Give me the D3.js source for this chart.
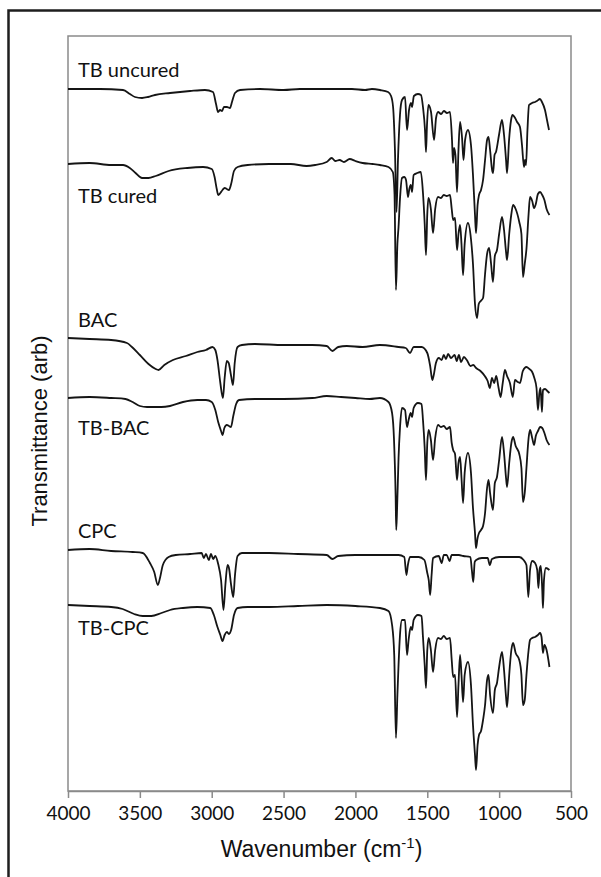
<!DOCTYPE html>
<html>
<head>
<meta charset="utf-8">
<script src="https://cdn.jsdelivr.net/npm/d3@7"></script>
<style>
  html, body { margin: 0; padding: 0; background: #fff; }
  svg { display: block; }
</style>
</head>
<body>
<div id="chart"></div>
<script>
// wavenumber (cm-1) ticks
var xTicks = [4000, 3500, 3000, 2500, 2000, 1500, 1000, 500];

var seriesNames = ['TB uncured', 'TB cured', 'BAC', 'TB-BAC', 'CPC', 'TB-CPC'];

// vertical stacking offset of each spectrum (arb)
var offsets = [702, 627, 453, 393, 241, 186];

// [wavenumber, transmittance relative to own baseline (arb)]
var tbUncured = [[4000,0],[3777,0],[3617,-1],[3569,-5],[3534,-8],[3485,-9],[3443,-8],[3395,-6],[3290,-4],[3151,-2],[3047,-1],[2991,-3],[2970,-15],[2956,-23],[2942,-21],[2928,-22],[2915,-18],[2894,-18],[2873,-19],[2859,-13],[2838,-4],[2803,-1],[2664,0],[2500,-1],[2386,0],[2200,0],[2024,0],[1933,-1],[1885,0],[1829,-1],[1773,-3],[1752,-7],[1738,-18],[1725,-61],[1714,-123],[1704,-71],[1690,-26],[1676,-11],[1655,-8],[1641,-41],[1627,-21],[1613,-14],[1606,-18],[1593,-7],[1565,-5],[1544,-6],[1530,-18],[1516,-41],[1509,-63],[1502,-36],[1492,-16],[1474,-23],[1453,-51],[1439,-29],[1425,-23],[1404,-25],[1384,-22],[1363,-24],[1342,-23],[1328,-51],[1321,-74],[1314,-59],[1304,-66],[1293,-103],[1283,-61],[1272,-33],[1258,-49],[1248,-71],[1237,-51],[1217,-41],[1196,-56],[1182,-86],[1168,-126],[1161,-144],[1150,-116],[1140,-106],[1126,-101],[1112,-91],[1098,-71],[1084,-51],[1074,-48],[1063,-61],[1049,-81],[1042,-84],[1032,-66],[1022,-63],[1001,-46],[980,-31],[966,-46],[952,-71],[945,-84],[931,-51],[917,-31],[907,-26],[889,-29],[875,-33],[855,-38],[841,-56],[827,-78],[820,-71],[813,-76],[803,-41],[792,-16],[771,-14],[750,-13],[737,-12],[716,-10],[702,-13],[681,-21],[667,-31],[653,-41]];

var tbCured = [[4000,0],[3850,1],[3700,-1],[3617,-1],[3570,-4],[3530,-9],[3485,-14],[3440,-14],[3390,-12],[3300,-7],[3170,-4],[3060,-3],[3000,-5],[2980,-13],[2965,-25],[2955,-31],[2940,-29],[2925,-26],[2910,-24],[2895,-25],[2880,-26],[2865,-20],[2845,-7],[2820,-3],[2750,-1],[2600,0],[2450,0],[2340,-2],[2280,-1],[2200,2],[2165,6],[2140,3],[2110,4],[2080,2],[2040,5],[2000,3],[1950,1],[1880,0],[1829,-1],[1770,-3],[1740,-8],[1728,-30],[1718,-126],[1708,-80],[1700,-63],[1690,-35],[1676,-14],[1660,-13],[1648,-16],[1634,-33],[1625,-25],[1615,-21],[1606,-28],[1595,-11],[1570,-9],[1545,-8],[1530,-29],[1518,-60],[1509,-91],[1500,-50],[1492,-34],[1475,-45],[1460,-69],[1445,-45],[1425,-33],[1405,-34],[1385,-31],[1365,-32],[1342,-31],[1330,-45],[1320,-56],[1307,-54],[1293,-86],[1283,-70],[1272,-61],[1262,-80],[1251,-111],[1240,-80],[1217,-59],[1196,-75],[1182,-100],[1168,-140],[1154,-154],[1142,-140],[1128,-137],[1112,-134],[1098,-110],[1084,-90],[1070,-84],[1056,-100],[1043,-118],[1030,-92],[1015,-86],[1000,-70],[980,-53],[966,-66],[952,-88],[945,-96],[930,-70],[915,-50],[903,-41],[885,-45],[860,-58],[845,-70],[834,-113],[822,-100],[810,-85],[795,-50],[785,-33],[770,-37],[757,-44],[745,-40],[730,-30],[715,-28],[700,-31],[685,-36],[670,-45],[650,-51]];

var bac = [[4000,0],[3850,-1],[3700,-2],[3590,-5],[3555,-9],[3500,-17],[3440,-26],[3390,-31],[3370,-32],[3330,-27],[3270,-22],[3180,-18],[3100,-14],[3040,-12],[2995,-9],[2975,-12],[2960,-22],[2940,-45],[2922,-60],[2910,-40],[2895,-23],[2882,-25],[2865,-38],[2852,-47],[2840,-25],[2820,-9],[2790,-7],[2700,-6],[2500,-7],[2300,-7],[2200,-8],[2160,-13],[2120,-9],[2060,-8],[1950,-9],[1830,-7],[1700,-9],[1650,-10],[1620,-15],[1595,-9],[1540,-9],[1500,-15],[1480,-28],[1465,-42],[1455,-37],[1440,-25],[1420,-20],[1400,-22],[1385,-17],[1370,-21],[1355,-16],[1335,-20],[1310,-17],[1295,-23],[1280,-17],[1265,-24],[1245,-19],[1225,-22],[1200,-28],[1180,-27],[1160,-30],[1130,-33],[1100,-38],[1080,-43],[1065,-50],[1050,-40],[1035,-45],[1020,-38],[1005,-49],[990,-59],[975,-45],[960,-32],[945,-38],[925,-45],[905,-59],[890,-42],[870,-44],[855,-45],[835,-33],[810,-29],[790,-31],[770,-34],[755,-40],[740,-50],[730,-72],[720,-55],[712,-50],[702,-74],[695,-52],[680,-51],[665,-53],[650,-55]];

var tbBac = [[4000,0],[3850,1],[3700,0],[3600,-1],[3550,-4],[3500,-8],[3450,-9],[3350,-9],[3290,-8],[3200,-4],[3100,-2],[3040,-2],[3000,-4],[2975,-12],[2955,-24],[2935,-33],[2925,-37],[2912,-30],[2895,-27],[2880,-28],[2866,-29],[2850,-18],[2830,-6],[2810,-2],[2700,-1],[2500,-1],[2300,0],[2200,2],[2100,1],[2000,0],[1900,-1],[1830,0],[1770,-4],[1745,-15],[1732,-40],[1720,-100],[1716,-132],[1710,-110],[1700,-60],[1690,-30],[1676,-10],[1655,-12],[1641,-29],[1630,-22],[1615,-15],[1606,-19],[1595,-10],[1565,-5],[1540,-6],[1530,-22],[1518,-50],[1509,-82],[1500,-45],[1490,-32],[1475,-42],[1460,-62],[1445,-40],[1425,-27],[1405,-29],[1385,-28],[1365,-31],[1342,-29],[1330,-45],[1320,-52],[1307,-56],[1293,-82],[1283,-65],[1272,-59],[1262,-80],[1251,-105],[1240,-75],[1217,-55],[1196,-75],[1182,-110],[1168,-135],[1161,-150],[1150,-140],[1140,-135],[1126,-132],[1112,-128],[1098,-115],[1084,-90],[1074,-82],[1063,-95],[1043,-112],[1030,-85],[1015,-79],[1000,-62],[980,-39],[966,-55],[952,-80],[945,-89],[930,-65],[915,-45],[903,-39],[885,-48],[860,-56],[845,-70],[834,-104],[822,-95],[810,-70],[795,-40],[785,-32],[770,-40],[757,-47],[745,-38],[730,-33],[715,-29],[700,-30],[685,-35],[670,-42],[650,-47]];

var cpc = [[4000,0],[3850,1],[3700,-1],[3550,-2],[3480,-3],[3430,-13],[3400,-22],[3375,-35],[3360,-28],[3340,-15],[3300,-7],[3250,-5],[3150,-4],[3070,-3],[3055,-8],[3040,-4],[3020,-10],[3005,-4],[2990,-9],[2975,-6],[2955,-14],[2935,-30],[2918,-60],[2905,-35],[2890,-15],[2880,-18],[2865,-35],[2850,-47],[2838,-25],[2820,-6],[2790,-3],[2600,-3],[2400,-4],[2200,-5],[2160,-9],[2120,-6],[2000,-5],[1800,-5],[1700,-5],[1660,-7],[1645,-25],[1635,-15],[1620,-7],[1560,-7],[1520,-10],[1500,-23],[1490,-30],[1480,-45],[1470,-25],[1460,-8],[1420,-6],[1400,-13],[1385,-5],[1365,-5],[1345,-11],[1330,-5],[1280,-5],[1250,-6],[1200,-7],[1190,-20],[1180,-32],[1170,-12],[1160,-10],[1120,-8],[1080,-8],[1065,-15],[1050,-9],[1000,-7],[900,-7],[860,-7],[830,-10],[810,-15],[797,-47],[785,-20],[770,-11],[750,-13],[735,-20],[727,-38],[717,-18],[710,-16],[700,-40],[695,-58],[688,-30],[675,-18],[650,-20]];

var tbCpc = [[4000,0],[3850,-1],[3700,-2],[3620,-4],[3540,-9],[3480,-11],[3420,-11],[3350,-8],[3290,-5],[3200,-3],[3100,-2],[3010,-3],[2985,-10],[2960,-22],[2940,-30],[2925,-36],[2910,-30],[2895,-27],[2880,-29],[2865,-25],[2845,-10],[2820,-3],[2750,-2],[2600,-2],[2400,-1],[2200,0],[2000,-1],[1830,-3],[1770,-6],[1745,-20],[1730,-50],[1718,-133],[1708,-90],[1700,-60],[1690,-30],[1676,-15],[1655,-15],[1641,-50],[1630,-35],[1615,-22],[1606,-25],[1595,-15],[1565,-10],[1540,-11],[1530,-32],[1518,-60],[1509,-83],[1500,-45],[1490,-33],[1475,-45],[1460,-67],[1445,-45],[1425,-33],[1405,-34],[1385,-31],[1365,-34],[1342,-33],[1330,-55],[1320,-72],[1307,-70],[1293,-112],[1283,-80],[1272,-50],[1262,-70],[1251,-97],[1240,-70],[1217,-57],[1196,-80],[1182,-120],[1168,-150],[1161,-165],[1150,-140],[1140,-130],[1126,-126],[1112,-115],[1098,-100],[1084,-75],[1074,-70],[1063,-90],[1043,-108],[1030,-85],[1015,-78],[1000,-62],[980,-47],[966,-65],[952,-92],[945,-102],[930,-70],[915,-45],[903,-38],[885,-48],[860,-55],[845,-70],[834,-100],[822,-95],[810,-70],[795,-45],[785,-35],[770,-33],[750,-32],[730,-30],[715,-28],[705,-32],[695,-48],[685,-40],[670,-45],[650,-62]];

var spectra = [tbUncured, tbCured, bac, tbBac, cpc, tbCpc];

(function() {

  var width = 601, height = 877;
  var left = 68, right = 571, top = 36, bottom = 791;

  var svg = d3.select('#chart')
    .append('svg')
    .attr('width', width)
    .attr('height', height);

  // outer frame of the figure (cut by the image edge on right/bottom)
  svg.append('rect')
    .attr('x', 8.5).attr('y', 10.5)
    .attr('width', 640).attr('height', 900)
    .attr('fill', 'none')
    .attr('stroke', '#1e1e1e')
    .attr('stroke-width', 2.5);

  var x = d3.scaleLinear().domain([4000, 500]).range([left, right]);
  var y = d3.scaleLinear().domain([0, 755]).range([bottom, top]);

  // plot area box
  svg.append('rect')
    .attr('x', left).attr('y', top)
    .attr('width', right - left).attr('height', bottom - top)
    .attr('fill', 'none')
    .attr('stroke', '#8a8a8a')
    .attr('stroke-width', 1.5);

  var xAxis = svg.append('g')
    .attr('transform', 'translate(0,' + bottom + ')')
    .call(d3.axisBottom(x).tickValues(xTicks).tickSize(7).tickSizeOuter(0).tickFormat(d3.format('d')));

  xAxis.select('.domain').attr('stroke', '#8a8a8a').attr('stroke-width', 1.5);
  xAxis.selectAll('.tick line').attr('stroke', '#8a8a8a').attr('stroke-width', 1.5);
  xAxis.selectAll('.tick text')
    .attr('y', 16)
    .attr('dy', '0.71em')
    .attr('fill', '#111')
    .style('font-family', 'Lato, "Open Sans", sans-serif')
    .style('font-size', '19px');

  var line = d3.line()
    .x(function(d) { return x(d[0]); })
    .curve(d3.curveMonotoneX);

  var curves = svg.append('g');

  spectra.forEach(function(s, i) {
    curves.append('path')
      .datum(s)
      .attr('fill', 'none')
      .attr('stroke', '#151515')
      .attr('stroke-width', 1.8)
      .attr('stroke-linejoin', 'round')
      .attr('d', line.y(function(d) { return y(offsets[i] + d[1]); }));
  });

  // label distance from the baseline of each spectrum, px (negative = above)
  var labelShift = [-12, 39, -11, 37, -12, 30];

  svg.append('g').selectAll('text')
    .data(seriesNames)
    .enter()
    .append('text')
    .attr('x', left + 10)
    .attr('y', function(d, i) { return y(offsets[i]) + labelShift[i]; })
    .attr('fill', '#111')
    .style('font-family', 'Lato, "Open Sans", sans-serif')
    .style('font-size', '20px')
    .text(function(d) { return d; });

  // axis titles
  var xt = svg.append('text')
    .attr('x', (left + right) / 2 + 2)
    .attr('y', 857)
    .attr('text-anchor', 'middle')
    .attr('fill', '#111')
    .style('font-family', '"Liberation Sans", Arial, sans-serif')
    .style('font-size', '23px');
  xt.append('tspan').text('Wavenumber (cm');
  xt.append('tspan').attr('dy', -9).style('font-size', '15px').text('-1');
  xt.append('tspan').attr('dy', 9).text(')');

  svg.append('text')
    .attr('transform', 'translate(47,' + 431 + ') rotate(-90)')
    .attr('text-anchor', 'middle')
    .attr('fill', '#111')
    .style('font-family', '"Liberation Sans", Arial, sans-serif')
    .style('font-size', '22px')
    .text('Transmittance (arb)');

})();
</script>
</body>
</html>
